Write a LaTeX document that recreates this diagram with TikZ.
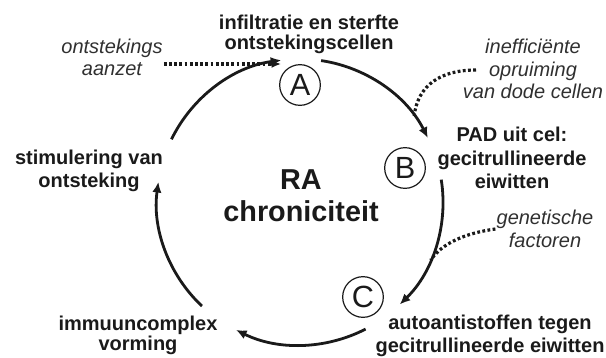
\documentclass[tikz,border=0pt]{standalone}
\usepackage{fontspec}
\setmainfont{Liberation Sans}
\usetikzlibrary{arrows.meta}
\usetikzlibrary{calc}
\usepackage{xcolor}
\definecolor{ink}{RGB}{26,26,26}
\definecolor{notegray}{RGB}{48,48,48}

\begin{document}
\begin{tikzpicture}[x=0.75pt,y=0.75pt,yscale=-1,xscale=1,
  cyc/.style={line width=2.1pt,draw=ink,-{Latex[length=8pt,width=7pt]}},
  dots/.style={line width=2.4pt,draw=ink,dash pattern=on 2.1pt off 1.8pt},
  lbl/.style={font=\bfseries\fontsize{15}{17}\selectfont,align=center,text=ink,inner sep=0.75pt},
  note/.style={font=\itshape\fontsize{15}{17}\selectfont,align=center,text=notegray,inner sep=0.75pt},
  letter/.style={circle,draw=ink,line width=0.9pt,minimum size=30.5pt,inner sep=0pt,font=\fontsize{23}{23}\selectfont,text=ink}]
\useasboundingbox (0,0) rectangle (606,357);

\coordinate (ctr) at (300,202);

%Shape: Arc  (cycle, clockwise)
\draw [cyc] ($(ctr)+(-154:143)$) arc [start angle=-154, end angle=-97.5, radius=143];
\draw [cyc] ($(ctr)+(-81.5:143)$) arc [start angle=-81.5, end angle=-26.6, radius=143];
\draw [cyc] ($(ctr)+(-9:143)$) arc [start angle=-9, end angle=45.8, radius=143];
\draw [cyc] ($(ctr)+(62.7:143)$) arc [start angle=62.7, end angle=116.6, radius=143];
\draw [cyc] ($(ctr)+(133.3:143)$) arc [start angle=133.3, end angle=188.1, radius=143];

% Circled letters
\node [letter] (stA) at (300,85) {A};
\node [letter] (stB) at (405,168) {B};
\node [letter] (stC) at (363,297) {C};

% Text Node
\node [font=\bfseries\fontsize{21.6}{24}\selectfont,align=center,text=ink,inner sep=0.75pt] (ra) at (301,196) {RA\\chroniciteit};
% Text Node
\node [lbl,font=\bfseries\fontsize{15}{15}\selectfont] (infil) at (309,34) {infiltratie en sterfte\\ontstekingscellen};
% Text Node
\node [lbl,font=\bfseries\fontsize{15}{17.6}\selectfont] (pad) at (512,158) {PAD uit cel:\\gecitrullineerde\\eiwitten};
% Text Node
\node [lbl] (stim) at (89,171) {stimulering van\\ontsteking};
% Text Node
\node [lbl,font=\bfseries\fontsize{15}{15}\selectfont] (immuun) at (138,335) {immuuncomplex\\vorming};
% Text Node
\node [lbl] (auto) at (490,336) {autoantistoffen tegen\\gecitrullineerde eiwitten};
% Text Node
\node [note,font=\itshape\fontsize{15}{16.5}\selectfont] (aanzet) at (112,57) {ontstekings\\aanzet};
% Text Node
\node [note] (ineff) at (533,69) {inefficiënte\\opruiming\\van dode cellen};
% Text Node
\node [note] (gen) at (545,229) {genetische\\factoren};

%Straight Lines (dotted input)
\coordinate (aanzetend) at (281,64);
\draw [dots,-{Latex[length=7pt,width=6pt]}] (aanzet.east |- aanzetend) -- (aanzetend);
%Curve Lines
\coordinate (ineffstart) at (476,70);
\coordinate (ineffend) at ($(ctr)+(-37:143)$);
\draw [dots] (ineffstart) .. controls (442,70) and (418,84) .. (ineffend);
%Curve Lines
\coordinate (genend) at ($(ctr)+(24:143)$);
\draw [dots] (gen.west) .. controls (466,233) and (442,243) .. (genend);

\end{tikzpicture}
\end{document}
